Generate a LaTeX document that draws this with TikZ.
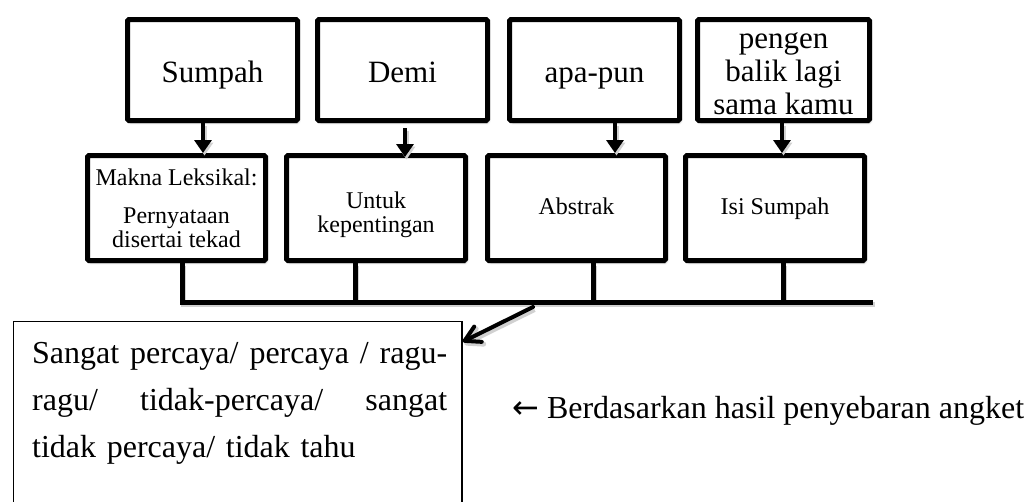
\documentclass[tikz,border=0pt]{standalone}
\usepackage{fontspec}
\setmainfont{Liberation Serif}
\newfontfamily\arrowfont{DejaVu Sans}
\usetikzlibrary{arrows.meta,shadows.blur,calc}
\begin{document}
\begin{tikzpicture}[x=1pt,y=-1pt,
  box/.style={draw, line width=5pt, rounded corners=1.5pt, fill=white,
    blur shadow={shadow xshift=1.5pt, shadow yshift=-2.5pt, shadow blur steps=6, shadow opacity=25}},
  topbox/.style={box, minimum width=170pt, minimum height=101pt, inner sep=0pt,
    font=\fontsize{31}{33}\selectfont},
  onel/.style={text height=24pt, text depth=0pt},
  lowbox/.style={box, minimum width=178pt, minimum height=105pt, inner sep=0pt,
    font=\fontsize{24}{24}\selectfont, align=center},
  lowone/.style={text height=17pt, text depth=5pt},
  lineshadow/.style={preaction={draw=black!18, line width=5pt, transform canvas={shift={(1.5pt,-2.5pt)}}}},
  arr/.style={line width=4pt, lineshadow, -{Triangle[length=13pt, width=17pt]}},
  bus/.style={line width=5pt, lineshadow},
  diag/.style={line width=4pt, line cap=round, lineshadow, -{Straight Barb[length=15pt, width=17pt, line cap=round, line join=round]}}
]
\useasboundingbox (0,0) rectangle (1033,501);

% top boxes
\node[topbox, onel] (sumpah) at (212.5,70) {Sumpah};
\node[topbox, onel] (demi) at (402.5,70) {Demi};
\node[topbox, onel] (apapun) at (594.5,70) {apa-pun};
\node[topbox, minimum width=172pt, align=center] (pengen) at (783.5,70) {\rule{0pt}{23pt}pengen\\balik lagi\\sama kamu};

% lower boxes
\node[lowbox] (makna) at (176.5,208) {Makna Leksikal:\\[14pt]Pernyataan\\disertai tekad};
\node[lowbox, minimum width=179pt] (untuk) at (376,208) {\rule{0pt}{30pt}Untuk\\kepentingan};
\node[lowbox, lowone] (abstrak) at (576.5,208) {Abstrak};
\node[lowbox, lowone, minimum width=179pt] (isi) at (775,208) {Isi Sumpah};

% arrows top -> bottom
\draw[arr] ([xshift=-9.5pt]sumpah.south) -- ([xshift=-9.5pt]sumpah.south |- makna.north);
\draw[arr] ([xshift=2.5pt,yshift=-5pt]demi.south) -- ([xshift=2.5pt,yshift=-4pt]demi.south |- untuk.north);
\draw[arr] ([xshift=20.5pt]apapun.south) -- ([xshift=20.5pt]apapun.south |- abstrak.north);
\draw[arr] ([xshift=-1.5pt]pengen.south) -- ([xshift=-1.5pt]pengen.south |- isi.north);

% bus
\coordinate (busend) at (873,302);
\draw[bus] ([xshift=-21pt]untuk.south) -- ([xshift=-21pt]untuk.south |- busend);
\draw[bus] ([xshift=16.5pt]abstrak.south) -- ([xshift=16.5pt]abstrak.south |- busend);
\draw[bus] ([xshift=8pt]isi.south) -- ([xshift=8pt]isi.south |- busend);
\draw[bus] ([xshift=5.5pt]makna.south) |- (busend);

% response box
\node[draw, line width=1.5pt, anchor=north west, minimum width=448.5pt, minimum height=200pt, inner sep=0pt] (resp) at (12.75,320.75) {};
\node[anchor=north west, inner sep=0pt, text width=415pt, align=left,
  font=\fontsize{32}{47}\selectfont] (resptext) at (32,330)
  {\strut\hbox to 415pt{Sangat\hfill percaya/\hfill percaya\hfill /\hfill ragu-}\\
   \leavevmode\hbox to 415pt{ragu/\hfill tidak-percaya/\hfill sangat}\\
   tidak percaya/ tidak tahu};

\coordinate (busarrow) at (533,307);
\draw[diag] (busarrow) -- ([yshift=-21pt]resp.north east);

% note
\node[anchor=base west, inner sep=0pt, font=\fontsize{32}{38}\selectfont] (note) at (512,418) {{\arrowfont ←} Berdasarkan hasil penyebaran angket};
\end{tikzpicture}
\end{document}
